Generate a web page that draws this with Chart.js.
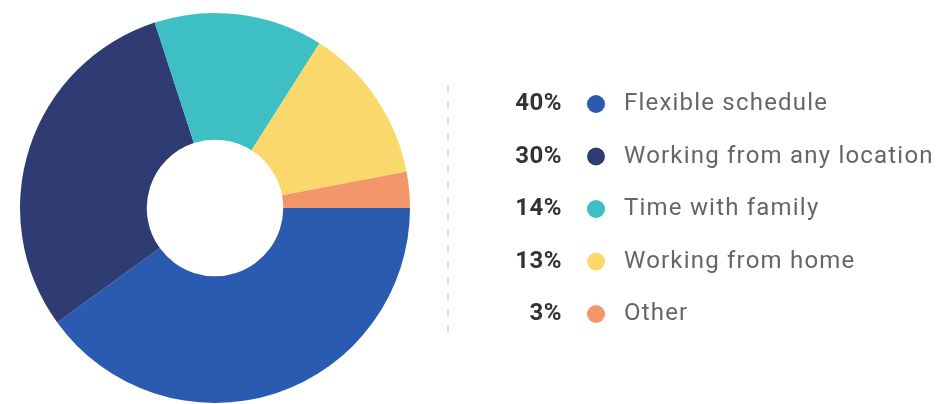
<!DOCTYPE html>
<html lang="en">
<head>
  <meta charset="UTF-8">
  <title>Reasons for remote work</title>
  <script src="https://cdn.jsdelivr.net/npm/chart.js"></script>
  <style>
    html, body { margin: 0; padding: 0; background: #fff; }
    #wrap { width: 941px; height: 404px; position: relative; }
  </style>
</head>
<body>
  <div id="wrap"><canvas id="myChart" width="941" height="404"></canvas></div>

  <script>
    // Categories and shares (%)
    const labels = ['Flexible schedule', 'Working from any location', 'Time with family', 'Working from home', 'Other'];
    const shares = [40, 30, 14, 13, 3];
    const colors = ['#2a5bb0', '#2f3b73', '#3dbfc3', '#fbd86b', '#f3966b'];

    // Legend drawn next to the doughnut: bold percentage, dot, label
    const sideLegend = {
      id: 'sideLegend',
      afterDraw(chart) {
        const ctx = chart.ctx;
        const values = chart.data.datasets[0].data;
        const bg = chart.data.datasets[0].backgroundColor;
        ctx.save();

        // dashed separator
        ctx.strokeStyle = '#d4d4d4';
        ctx.lineWidth = 1.5;
        ctx.setLineDash([8, 8]);
        ctx.beginPath();
        ctx.moveTo(448, 85);
        ctx.lineTo(448, 332);
        ctx.stroke();
        ctx.setLineDash([]);

        const top = 104, step = 52.5;
        ctx.textBaseline = 'middle';
        chart.data.labels.forEach((lab, i) => {
          const y = top + i * step;
          ctx.font = 'bold 24px Roboto';
          ctx.letterSpacing = '0.5px';
          ctx.fillStyle = '#333';
          ctx.textAlign = 'right';
          ctx.fillText(values[i] + '%', 562, y);

          ctx.fillStyle = bg[i];
          ctx.beginPath();
          ctx.arc(596, y, 9, 0, Math.PI * 2);
          ctx.fill();

          ctx.font = '24px Roboto';
          ctx.letterSpacing = '1.2px';
          ctx.fillStyle = '#666';
          ctx.textAlign = 'left';
          ctx.fillText(lab, 624, y);
        });
        ctx.restore();
      }
    };

    const ctx = document.getElementById('myChart').getContext('2d');
    new Chart(ctx, {
      type: 'doughnut',
      data: {
        labels: labels,
        datasets: [{
          data: shares,
          backgroundColor: colors,
          borderWidth: 0
        }]
      },
      options: {
        responsive: false,
        animation: false,
        rotation: 90,
        cutout: '35%',
        layout: { padding: { left: 20, right: 531, top: 13, bottom: 1 } },
        plugins: {
          legend: { display: false },
          tooltip: { enabled: false }
        }
      },
      plugins: [sideLegend]
    });
  </script>
</body>
</html>
